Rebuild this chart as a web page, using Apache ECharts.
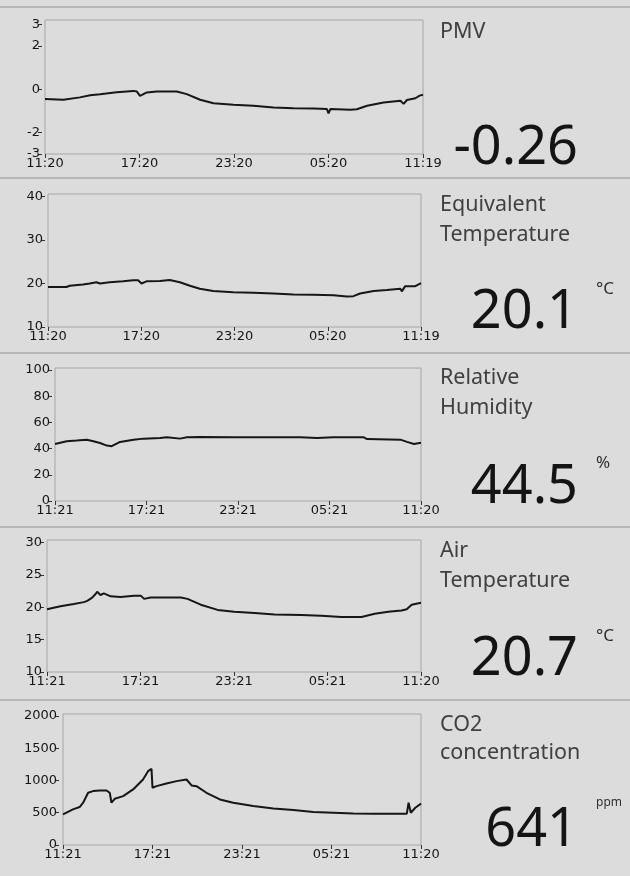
<!DOCTYPE html>
<html>
<head>
<meta charset="utf-8">
<script src="https://cdn.jsdelivr.net/npm/echarts@6/dist/echarts.min.js"></script>
<style>
html,body{margin:0;padding:0;background:#dcdcdc;}
#c{width:630px;height:876px;}
</style>
</head>
<body>
<div id="c"></div>
<script>
// ---- data (time in minutes from start of 24 h window, value) ----
const timeLabelsA = ['11:20', '17:20', '23:20', '05:20', '11:19'];
const timeLabelsB = ['11:21', '17:21', '23:21', '05:21', '11:20'];

const pmvTicks = [-3, -2, 0, 2, 3];
const eqTempTicks = [10, 20, 30, 40];
const humidityTicks = [0, 20, 40, 60, 80, 100];
const airTempTicks = [10, 15, 20, 25, 30];
const co2Ticks = [0, 500, 1000, 1500, 2000];

const pmv = [[0,-0.46],[70,-0.49],[133,-0.38],[172,-0.28],[210,-0.23],[273,-0.14],[337,-0.08],[350,-0.11],[362,-0.31],[388,-0.15],[426,-0.11],[502,-0.11],[540,-0.23],[591,-0.49],[642,-0.65],[718,-0.72],[794,-0.77],[871,-0.85],[947,-0.88],[1023,-0.89],[1074,-0.92],[1080,-1.12],[1087,-0.92],[1163,-0.95],[1188,-0.93],[1227,-0.77],[1290,-0.62],[1354,-0.54],[1366,-0.68],[1379,-0.50],[1411,-0.42],[1427,-0.30],[1440,-0.26]];

const eqTemp = [[0,19.2],[71,19.2],[84,19.5],[135,19.8],[161,20.0],[187,20.3],[200,20.0],[238,20.3],[290,20.5],[329,20.75],[348,20.75],[361,20.0],[380,20.5],[432,20.6],[470,20.8],[509,20.3],[548,19.5],[586,18.8],[638,18.3],[715,18.0],[793,17.9],[870,17.7],[947,17.5],[1025,17.4],[1102,17.3],[1154,17.0],[1179,17.1],[1205,17.7],[1257,18.3],[1308,18.5],[1360,18.8],[1366,18.2],[1379,19.4],[1418,19.4],[1440,20.1]];

const humidity = [[0,43.5],[46,45.6],[85,46.1],[125,46.8],[151,45.6],[177,44.3],[204,42.3],[223,41.8],[256,45.1],[309,46.8],[348,47.6],[414,48.1],[440,48.6],[492,47.6],[519,48.6],[571,48.9],[702,48.6],[834,48.6],[965,48.6],[1031,48.1],[1096,48.6],[1215,48.6],[1228,47.3],[1359,46.8],[1385,45.1],[1412,43.5],[1440,44.5]];

const airTemp = [[0,19.7],[52,20.15],[103,20.5],[142,20.8],[155,21.0],[174,21.5],[187,22.05],[193,22.4],[206,21.9],[219,22.15],[245,21.7],[283,21.6],[335,21.8],[361,21.8],[374,21.3],[399,21.5],[515,21.5],[541,21.3],[592,20.4],[657,19.6],[721,19.3],[799,19.1],[876,18.9],[979,18.8],[1056,18.7],[1133,18.5],[1211,18.5],[1262,19.0],[1314,19.3],[1365,19.5],[1385,19.7],[1404,20.4],[1440,20.7]];

const co2 = [[0,474],[40,552],[67,588],[81,655],[101,809],[121,835],[148,845],[175,845],[188,809],[195,655],[208,716],[242,758],[282,861],[322,1015],[342,1144],[356,1180],[360,887],[376,912],[416,954],[457,990],[497,1015],[517,923],[537,912],[577,809],[631,706],[685,655],[765,603],[846,567],[927,541],[1007,510],[1088,500],[1168,490],[1249,485],[1383,485],[1390,655],[1399,500],[1417,577],[1440,641]];

const titles = [['PMV'], ['Equivalent', 'Temperature'], ['Relative', 'Humidity'], ['Air', 'Temperature'], ['CO2', 'concentration']];
const readings = ['-0.26', '20.1', '44.5', '20.7', '641'];
const units = ['', '°C', '%', '°C', 'ppm'];

// ---- layout ----
const panels = [
  {left:45, top:20, width:378, height:134, ymin:-3, ymax:3.2, yticks:pmvTicks, labels:timeLabelsA, data:pmv, yoff:3},
  {left:48, top:194, width:373, height:133, ymin:10, ymax:40.6, yticks:eqTempTicks, labels:timeLabelsA, data:eqTemp, yoff:3},
  {left:55, top:368, width:366, height:133, ymin:0, ymax:101.5, yticks:humidityTicks, labels:timeLabelsB, data:humidity, yoff:3},
  {left:47, top:540, width:374, height:132, ymin:10, ymax:30.4, yticks:airTempTicks, labels:timeLabelsB, data:airTemp, yoff:3},
  {left:63, top:714, width:358, height:131, ymin:0, ymax:2030, yticks:co2Ticks, labels:timeLabelsB, data:co2, yoff:4}
];
const panelTops = [7, 178, 353, 527, 700];

const tickFont = {fontFamily:'DejaVu Sans', fontSize:13, color:'#151515'};

const grid = [], xAxis = [], yAxis = [], series = [];
panels.forEach((p, i) => {
  grid.push({left:p.left, top:p.top, width:p.width, height:p.height, show:true,
    borderColor:'#a6a6a6', borderWidth:1, backgroundColor:'transparent', containLabel:false});
  xAxis.push({type:'value', gridIndex:i, min:0, max:1440, interval:360,
    axisLine:{show:false, onZero:false}, splitLine:{show:false},
    axisTick:{show:true, length:4, lineStyle:{color:'#333'}},
    axisLabel:Object.assign({margin:3, showMaxLabel:true,
      formatter:(v) => p.labels[Math.round(v/360)]}, tickFont)});
  yAxis.push({type:'value', gridIndex:i, min:p.ymin, max:p.ymax, offset:p.yoff,
    axisLine:{show:false, onZero:false}, splitLine:{show:false},
    axisTick:{show:true, length:4, customValues:p.yticks, lineStyle:{color:'#333'}},
    axisLabel:Object.assign({margin:2, customValues:p.yticks, formatter:(v) => String(v)}, tickFont)});
  series.push({type:'line', xAxisIndex:i, yAxisIndex:i, data:p.data, showSymbol:false,
    lineStyle:{color:'#161616', width:2}, silent:true});
});

// ---- graphic: separators + readout texts ----
const graphic = [];
panelTops.forEach((y) => {
  graphic.push({type:'line', shape:{x1:0, y1:y, x2:630, y2:y}, style:{stroke:'#ababab', lineWidth:1.5}, silent:true});
});
const titleY = [[32], [205, 235], [378, 408], [551, 581], [725, 753]];
const readY = [149, 313, 488, 660, 831];
const unitY = [0, 289, 463, 636, 803];
titles.forEach((lines, i) => {
  lines.forEach((t, j) => {
    graphic.push({type:'text', x:440, y:titleY[i][j], style:{text:t, font:'21.5px "Noto Sans"', fill:'#404040', textVerticalAlign:'middle'}});
  });
  graphic.push({type:'text', x:578, y:readY[i], style:{text:readings[i], font:'54px "Noto Sans"', fill:'#141414', textAlign:'right', textVerticalAlign:'middle'}});
  if (units[i]) {
    graphic.push({type:'text', x:596, y:unitY[i], style:{text:units[i], font:(units[i]==='ppm' ? '12px' : '17px') + ' "Noto Sans"', fill:'#303030', textVerticalAlign:'middle'}});
  }
});

const chart = echarts.init(document.getElementById('c'), null, {renderer:'canvas'});
chart.setOption({backgroundColor:'#dcdcdc', animation:false, grid, xAxis, yAxis, series, graphic});
</script>
</body>
</html>
